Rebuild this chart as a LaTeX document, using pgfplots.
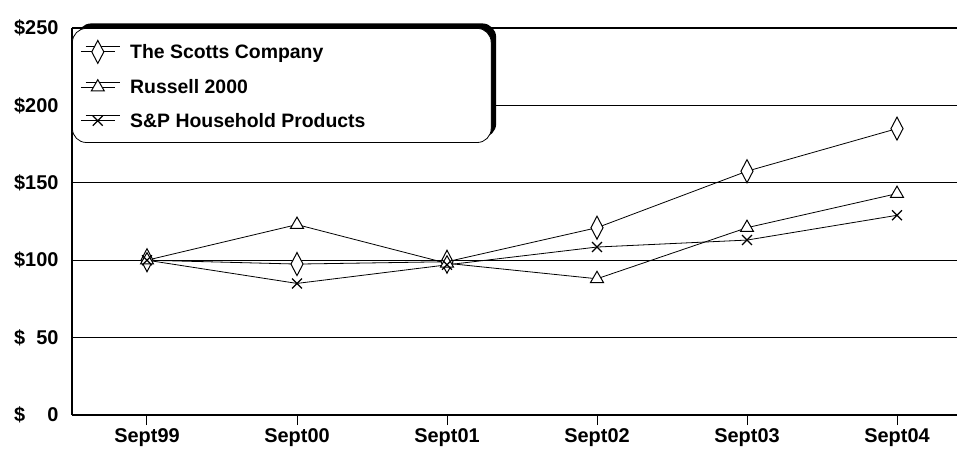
\documentclass[border=0pt]{standalone}
\usepackage{pgfplots}
\pgfplotsset{compat=1.18}
\usepackage{fontspec}
\setmainfont{Liberation Sans}
\usetikzlibrary{shadows}

\begin{document}
\begin{tikzpicture}
\useasboundingbox (-72bp,-37bp) rectangle (885bp,415bp);
\begin{axis}[
  at={(0,0)}, anchor=south west,
  scale only axis, width=885bp, height=387bp,
  xmin=-0.5, xmax=5.4, ymin=0, ymax=250,
  axis x line*=bottom, axis y line*=left,
  axis line style={line width=1.4bp},
  xtick={0,1,2,3,4,5},
  xticklabels={Sept99,Sept00,Sept01,Sept02,Sept03,Sept04},
  ytick={0,50,100,150,200,250},
  yticklabels={\$\phantom{00}0,\$\phantom{0}50,\$100,\$150,\$200,\$250},
  ymajorgrids, grid style={black, line width=1.3bp},
  tick align=outside, major tick length=10bp,
  ytick style={draw=none},
  xtick style={black, line width=1bp},
  ticklabel style={font=\bfseries\fontsize{20}{20}\selectfont},
  yticklabel style={xshift=0bp},
  legend cell align=left,
  legend image code/.code={\draw[mark repeat=2, mark phase=2] plot coordinates {(0bp,0bp) (17bp,0bp) (34bp,0bp)};},
  legend style={at={(rel axis cs:0,1)}, anchor=north west,
    draw=black, line width=0.8bp, rounded corners=14bp, fill=white,
    drop shadow={shadow xshift=5bp, shadow yshift=5bp, opacity=1, fill=black},
    font=\bfseries\fontsize{19.5}{19.5}\selectfont,
    inner xsep=8bp, inner ysep=12bp, row sep=14bp,
    /tikz/every odd column/.append style={column sep=13bp}},
]
\addplot[black, line width=0.8bp, mark=diamond*, mark size=11.5bp,
  mark options={fill=white, xscale=0.7, line width=1bp, sharp corners}]
  coordinates {(0,100) (1,97.5) (2,99) (3,121) (4,157.5) (5,185)};
\addlegendentry{\makebox[351bp][l]{The Scotts Company}}
\addplot[black, line width=0.8bp, mark=triangle*, mark size=7.5bp,
  mark options={fill=white, line width=1bp, sharp corners}]
  coordinates {(0,100) (1,123) (2,98) (3,88) (4,121) (5,143)};
\addlegendentry{Russell 2000}
\addplot[black, line width=0.8bp, mark=x, mark size=7bp,
  mark options={line width=1.2bp, sharp corners}]
  coordinates {(0,100) (1,85) (2,97) (3,108.5) (4,113) (5,129)};
\addlegendentry{S\&P Household Products}
\end{axis}
\end{tikzpicture}
\end{document}
